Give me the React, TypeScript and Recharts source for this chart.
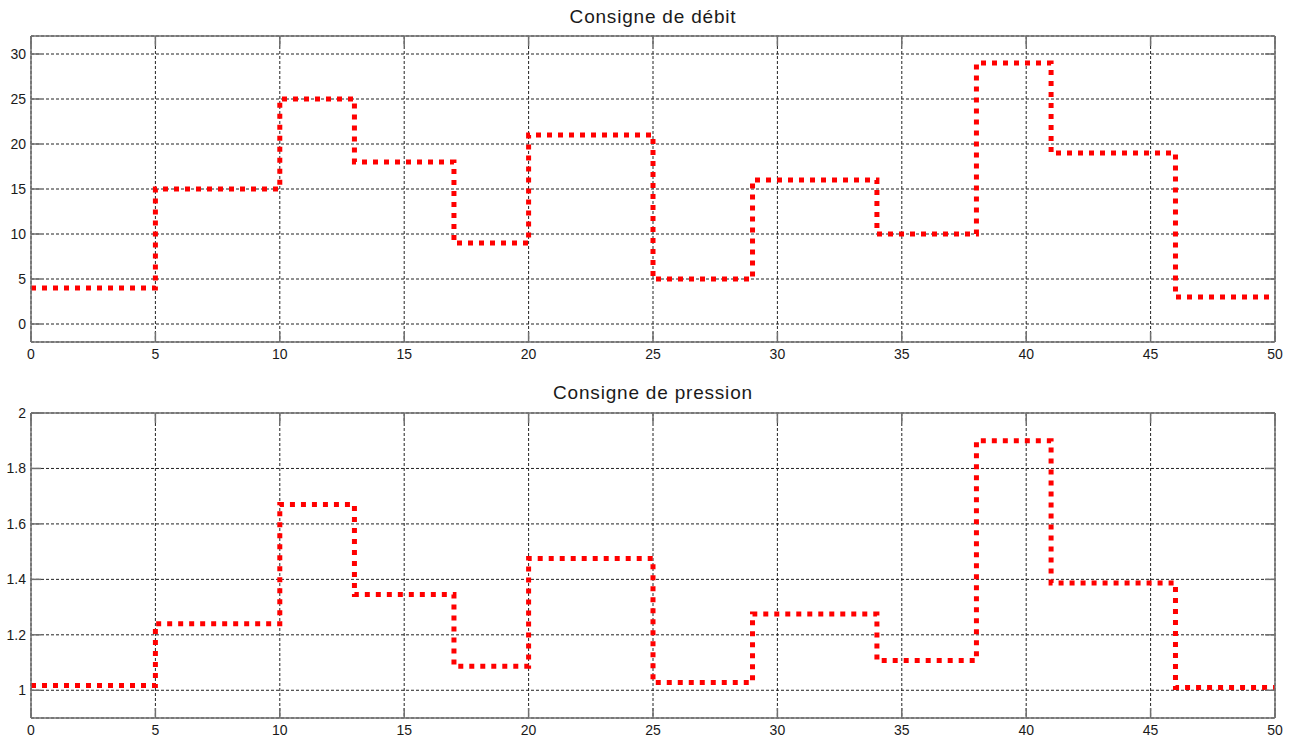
import React from "react";
import {
  LineChart,
  Line,
  XAxis,
  YAxis,
  CartesianGrid,
} from "recharts";

// instants de changement de consigne (s)
const stepTimes = [0, 5, 10, 13, 17, 20, 25, 29, 34, 38, 41, 46, 50];
const debit = [4, 15, 25, 18, 9, 21, 5, 16, 10, 29, 19, 3, 3];
const pression = [
  1.017, 1.24, 1.67, 1.345, 1.087, 1.475, 1.028, 1.275, 1.107, 1.9, 1.387, 1.01,
  1.01,
];

const xTicks = [0, 5, 10, 15, 20, 25, 30, 35, 40, 45, 50];
const debitTicks = [0, 5, 10, 15, 20, 25, 30];
const pressionTicks = [1, 1.2, 1.4, 1.6, 1.8, 2];

const FONT = '"Liberation Sans", Arial, Helvetica, sans-serif';
const AXIS = "#707070";
const TEXT = "#1a1a1a";
const TICK_LEN = 10;

const W = 1296;
const LEFT = 31;
const RIGHT_W = W - 1275;

const LeftTick = (p: any) => (
  <g>
    <line x1={p.x + 5} x2={p.x + 5 + TICK_LEN} y1={p.y} y2={p.y} stroke={AXIS} strokeWidth={1.5} />
    <text x={p.x} y={p.y} dy="0.36em" textAnchor="end" fontSize={14} fontFamily={FONT} fill={TEXT}>
      {String(p.payload.value)}
    </text>
  </g>
);

const RightTick = (p: any) => (
  <line x1={p.x - TICK_LEN} x2={p.x} y1={p.y} y2={p.y} stroke={AXIS} strokeWidth={1.5} />
);

const BottomTick = (p: any) => (
  <g>
    <line x1={p.x} x2={p.x} y1={p.y - TICK_LEN} y2={p.y} stroke={AXIS} strokeWidth={1.5} />
    <text x={p.x} y={p.y + 17} textAnchor="middle" fontSize={14} fontFamily={FONT} fill={TEXT}>
      {String(p.payload.value)}
    </text>
  </g>
);

const TopTick = (p: any) => (
  <line x1={p.x} x2={p.x} y1={p.y} y2={p.y + TICK_LEN} stroke={AXIS} strokeWidth={1.5} />
);

interface PanelProps {
  values: number[];
  yDomain: [number, number];
  yTicks: number[];
  height: number;
  top: number;
}

function Panel({ values, yDomain, yTicks, height, top }: PanelProps) {
  const data = stepTimes.map((t, i) => ({ t, v: values[i] }));
  return (
    <LineChart
      width={W}
      height={height}
      data={data}
      margin={{ top: top - 1, right: 0, bottom: 0, left: 0 }}
    >
      <CartesianGrid stroke="#222" strokeDasharray="3 2" strokeWidth={1} />
      <XAxis
        dataKey="t"
        type="number"
        domain={[0, 50]}
        ticks={xTicks}
        allowDataOverflow
        height={28}
        stroke={AXIS}
        strokeWidth={1.5}
        tickLine={false}
        tickSize={0}
        tickMargin={0}
        tick={<BottomTick />}
        interval={0}
      />
      <XAxis
        xAxisId="top"
        orientation="top"
        dataKey="t"
        type="number"
        domain={[0, 50]}
        ticks={xTicks}
        allowDataOverflow
        height={1}
        stroke={AXIS}
        strokeWidth={1.5}
        tickLine={false}
        tickSize={0}
        tickMargin={0}
        tick={<TopTick />}
        interval={0}
      />
      <YAxis
        type="number"
        domain={yDomain}
        ticks={yTicks}
        allowDataOverflow
        width={LEFT}
        stroke={AXIS}
        strokeWidth={1.5}
        tickLine={false}
        tickSize={0}
        tickMargin={5}
        tick={<LeftTick />}
        interval={0}
      />
      <YAxis
        yAxisId="right"
        orientation="right"
        type="number"
        domain={yDomain}
        ticks={yTicks}
        allowDataOverflow
        width={RIGHT_W}
        stroke={AXIS}
        strokeWidth={1.5}
        tickLine={false}
        tickSize={0}
        tickMargin={0}
        tick={<RightTick />}
        interval={0}
      />
      <Line
        type="stepAfter"
        dataKey="v"
        stroke="#ff0000"
        strokeWidth={5}
        strokeDasharray="5 6"
        dot={false}
        activeDot={false}
        isAnimationActive={false}
      />
    </LineChart>
  );
}

const titleStyle = (top: number): React.CSSProperties => ({
  position: "absolute",
  top,
  left: LEFT,
  width: 1275 - LEFT,
  textAlign: "center",
  fontFamily: FONT,
  fontSize: 19,
  lineHeight: "19px",
  letterSpacing: 0.8,
  color: TEXT,
});

export default function App() {
  return (
    <div
      style={{
        position: "absolute",
        left: 0,
        top: 0,
        width: W,
        height: 739,
        background: "#fff",
        overflow: "hidden",
      }}
    >
      <div style={{ position: "absolute", left: 0, top: 0 }}>
        <Panel values={debit} yDomain={[-2, 32]} yTicks={debitTicks} height={370} top={36} />
      </div>
      <div style={{ position: "absolute", left: 0, top: 370 }}>
        <Panel values={pression} yDomain={[0.9, 2]} yTicks={pressionTicks} height={376} top={43} />
      </div>
      <div style={titleStyle(7)}>Consigne de débit</div>
      <div style={titleStyle(383)}>Consigne de pression</div>
    </div>
  );
}
